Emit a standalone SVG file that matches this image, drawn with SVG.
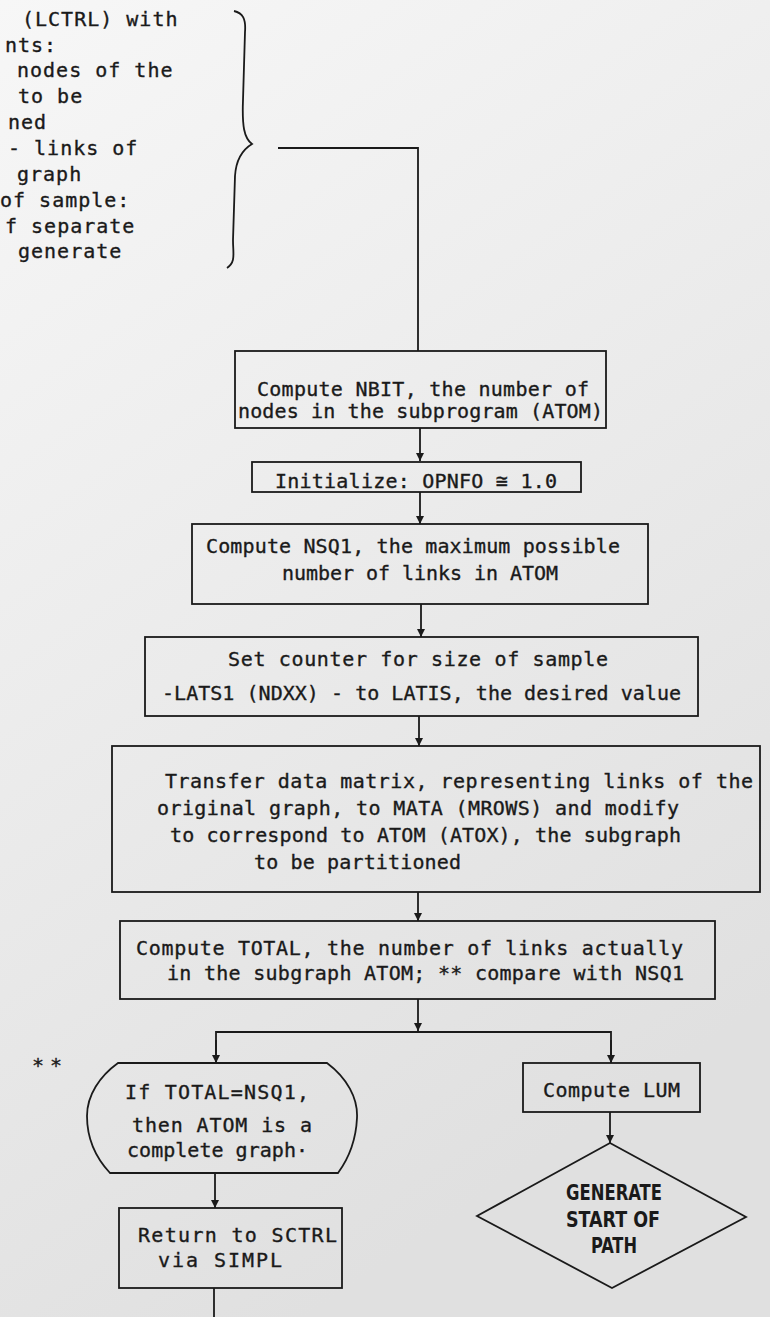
<svg xmlns="http://www.w3.org/2000/svg" width="770" height="1317" viewBox="0 0 770 1317">
<style>
.t{font-family:"DejaVu Sans Mono","Liberation Mono",monospace;font-size:20px;fill:#1a1a1a;stroke:#1a1a1a;stroke-width:0.35}
.tl{font-family:"DejaVu Sans Mono","Liberation Mono",monospace;font-size:20px;letter-spacing:1px;fill:#1a1a1a;stroke:#1a1a1a;stroke-width:0.35}
.b{fill:none;stroke:#1a1a1a;stroke-width:1.8}
.c{fill:none;stroke:#1a1a1a;stroke-width:1.8}
.d{font-family:"DejaVu Sans Condensed","DejaVu Sans","Liberation Sans",sans-serif;font-size:21px;font-weight:bold;fill:#1a1a1a}
</style>
<defs>
<linearGradient id="bg" x1="0" y1="0" x2="0.4" y2="1">
<stop offset="0" stop-color="#f7f7f7"/>
<stop offset="1" stop-color="#e0e0e0"/>
</linearGradient>
<marker id="ah" markerUnits="userSpaceOnUse" markerWidth="9" markerHeight="9" refX="8" refY="4" orient="auto">
<path d="M0,0 L8,4 L0,8 z" fill="#1a1a1a"/>
</marker>
</defs>
<rect x="0" y="0" width="770" height="1317" fill="url(#bg)"/>

<g id="note">
<text class="tl" x="22" y="26">(LCTRL) with</text>
<text class="tl" x="5" y="52">nts:</text>
<text class="tl" x="17" y="77">nodes of the</text>
<text class="tl" x="18" y="103">to be</text>
<text class="tl" x="8" y="129">ned</text>
<text class="tl" x="8" y="155">- links of</text>
<text class="tl" x="17" y="181">graph</text>
<text class="tl" x="0" y="207">of sample:</text>
<text class="tl" x="5" y="233">f separate</text>
<text class="tl" x="18" y="258">generate</text>
<path class="c" d="M234 11 C243 13 246 19 245 32 L243 100 C242 126 244 138 252 144 C242 150 236 160 235 176 L233 240 C233 254 236 262 227 268"/>
</g>

<g id="connectors">
<polyline class="c" points="278,148 418,148 418,351"/>
<line class="c" x1="420" y1="428" x2="420" y2="461" marker-end="url(#ah)"/>
<line class="c" x1="420" y1="492" x2="420" y2="524" marker-end="url(#ah)"/>
<line class="c" x1="421" y1="604" x2="421" y2="637" marker-end="url(#ah)"/>
<line class="c" x1="419" y1="716" x2="419" y2="746" marker-end="url(#ah)"/>
<line class="c" x1="418" y1="892" x2="418" y2="921" marker-end="url(#ah)"/>
<line class="c" x1="418" y1="999" x2="418" y2="1031" marker-end="url(#ah)"/>
<polyline class="c" points="216,1063 216,1032 611,1032 611,1063"/>
<line class="c" x1="216" y1="1040" x2="216" y2="1063" marker-end="url(#ah)"/>
<line class="c" x1="611" y1="1040" x2="611" y2="1063" marker-end="url(#ah)"/>
<line class="c" x1="215" y1="1173" x2="215" y2="1208" marker-end="url(#ah)"/>
<line class="c" x1="610" y1="1112" x2="610" y2="1143" marker-end="url(#ah)"/>
<line class="c" x1="214" y1="1288" x2="214" y2="1317"/>
</g>

<g id="n1">
<rect class="b" x="235" y="351" width="371" height="77"/>
<text class="t" x="257" y="396" textLength="332" lengthAdjust="spacing">Compute NBIT, the number of</text>
<text class="t" x="238" y="418" textLength="365" lengthAdjust="spacing">nodes in the subprogram (ATOM)</text>
</g>

<g id="n2">
<rect class="b" x="252" y="462" width="329" height="30"/>
<text class="t" x="275" y="488" textLength="282" lengthAdjust="spacing">Initialize: OPNFO ≅ 1.0</text>
</g>

<g id="n3">
<rect class="b" x="192" y="524" width="456" height="80"/>
<text class="t" x="206" y="553" textLength="414" lengthAdjust="spacing">Compute NSQ1, the maximum possible</text>
<text class="t" x="282" y="580" textLength="276" lengthAdjust="spacing">number of links in ATOM</text>
</g>

<g id="n4">
<rect class="b" x="145" y="637" width="553" height="79"/>
<text class="t" x="228" y="666" textLength="380" lengthAdjust="spacing">Set counter for size of sample</text>
<text class="t" x="162" y="700" textLength="519" lengthAdjust="spacing">-LATS1 (NDXX) - to LATIS, the desired value</text>
</g>

<g id="n5">
<rect class="b" x="112" y="746" width="648" height="146"/>
<text class="t" x="165" y="788" textLength="588" lengthAdjust="spacing">Transfer data matrix, representing links of the</text>
<text class="t" x="157" y="815" textLength="522" lengthAdjust="spacing">original graph, to MATA (MROWS) and modify</text>
<text class="t" x="170" y="842" textLength="511" lengthAdjust="spacing">to correspond to ATOM (ATOX), the subgraph</text>
<text class="t" x="254" y="869" textLength="207" lengthAdjust="spacing">to be partitioned</text>
</g>

<g id="n6">
<rect class="b" x="120" y="921" width="595" height="78"/>
<text class="t" x="136" y="955" textLength="547" lengthAdjust="spacing">Compute TOTAL, the number of links actually</text>
<text class="t" x="167" y="980" textLength="517" lengthAdjust="spacing">in the subgraph ATOM; ** compare with NSQ1</text>
</g>

<g id="star">
<text class="t" x="32" y="1072" textLength="30" lengthAdjust="spacing">**</text>
</g>

<g id="n7">
<path class="b" d="M118 1063 L327 1063 C347 1078 358 1098 357 1118 C356 1140 349 1158 338 1173 L110 1173 C96 1158 87 1138 87 1116 C87 1095 100 1076 118 1063 Z"/>
<text class="t" x="125" y="1099" textLength="184" lengthAdjust="spacing">If TOTAL=NSQ1,</text>
<text class="t" x="132" y="1132" textLength="180" lengthAdjust="spacing">then ATOM is a</text>
<text class="t" x="127" y="1157" textLength="181" lengthAdjust="spacing">complete graph·</text>
</g>

<g id="n8">
<rect class="b" x="523" y="1063" width="177" height="49"/>
<text class="t" x="543" y="1097" textLength="137" lengthAdjust="spacing">Compute LUM</text>
</g>

<g id="n9">
<rect class="b" x="119" y="1208" width="223" height="80"/>
<text class="t" x="138" y="1242" textLength="199" lengthAdjust="spacing">Return to SCTRL</text>
<text class="t" x="158" y="1267" textLength="124" lengthAdjust="spacing">via SIMPL</text>
</g>

<g id="n10">
<polygon class="b" points="610,1143 746,1217 612,1288 477,1216"/>
<text class="d" x="566" y="1200" textLength="96" lengthAdjust="spacingAndGlyphs">GENERATE</text>
<text class="d" x="566" y="1227" textLength="94" lengthAdjust="spacingAndGlyphs">START OF</text>
<text class="d" x="591" y="1253" textLength="46" lengthAdjust="spacingAndGlyphs">PATH</text>
</g>
</svg>
